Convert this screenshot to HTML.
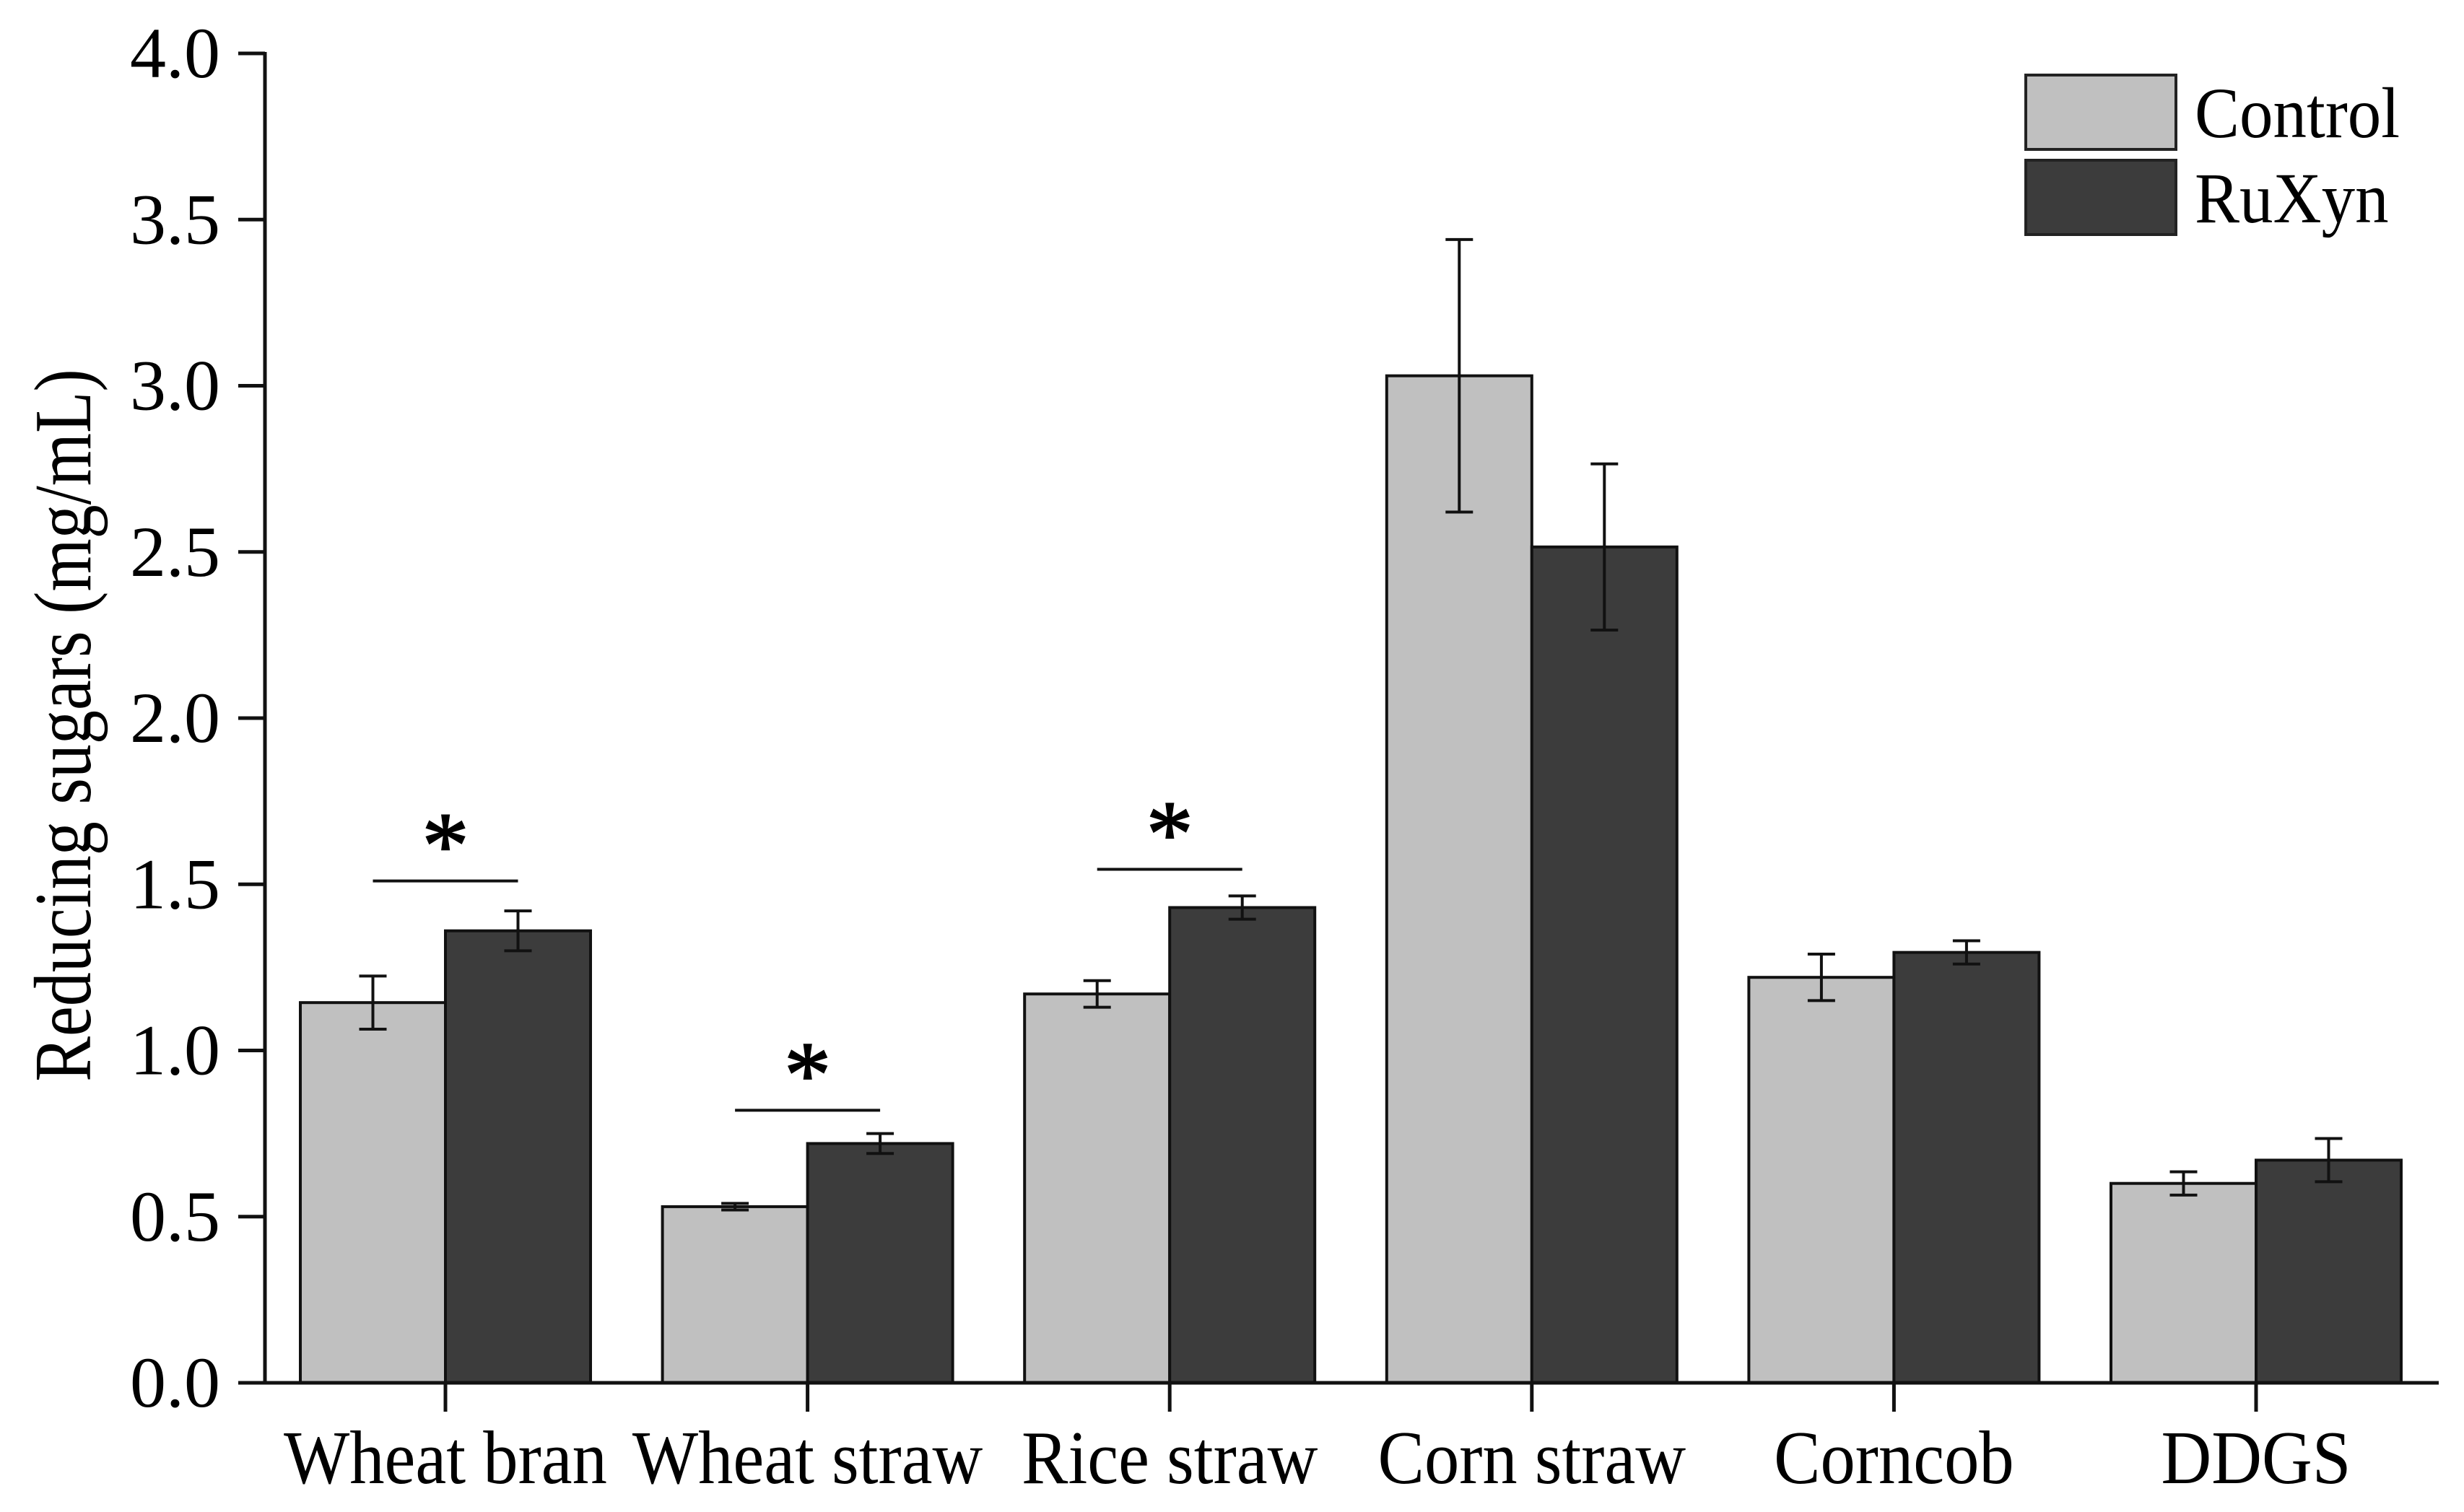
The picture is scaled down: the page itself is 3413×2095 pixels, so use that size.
<!DOCTYPE html>
<html><head><meta charset="utf-8"><style>
html,body{margin:0;padding:0;background:#fff;}
svg{display:block;font-family:"Liberation Serif",serif;}
</style></head><body>
<svg id="chart" width="3413" height="2095" viewBox="0 0 3413 2095" xmlns="http://www.w3.org/2000/svg">
<g id="plot"></g>
</svg>
<script>
const categories = ["Wheat bran","Wheat straw","Rice straw","Corn straw","Corncob","DDGS"];
const controlValues = [1.144,0.53,1.17,3.03,1.22,0.60];
const controlErrors = [0.08,0.01,0.04,0.41,0.07,0.035];
const ruxynValues = [1.36,0.72,1.43,2.515,1.295,0.67];
const ruxynErrors = [0.06,0.03,0.035,0.25,0.035,0.065];
const sigGroups = [0,1,2];
const sigLevels = [1.51,0.82,1.545];
const yTicks = [0,0.5,1.0,1.5,2.0,2.5,3.0,3.5,4.0];
const yTickLabels = ["0.0","0.5","1.0","1.5","2.0","2.5","3.0","3.5","4.0"];

const NS="http://www.w3.org/2000/svg";
const g=document.getElementById('plot');
const X0=367, Y0=1916, YPX=460.5, GC0=617, GSP=501.6, BW=201;
function y(v){return Y0-v*YPX;}
function gx(i){return GC0+i*GSP;}
function mk(tag,attrs){const e=document.createElementNS(NS,tag);for(const k in attrs)e.setAttribute(k,attrs[k]);g.appendChild(e);return e;}

categories.forEach((c,i)=>{
  const cx=gx(i);
  let b=mk('rect',{x:cx-BW,y:y(controlValues[i]),width:BW,height:Y0-y(controlValues[i]),fill:'#c0c0c0',stroke:'#111','stroke-width':4});
  
  
  b=mk('rect',{x:cx,y:y(ruxynValues[i]),width:BW,height:Y0-y(ruxynValues[i]),fill:'#3c3c3c',stroke:'#111','stroke-width':4});
  
  
  [[cx-BW/2,controlValues[i],controlErrors[i],'control'],[cx+BW/2,ruxynValues[i],ruxynErrors[i],'ruxyn']].forEach(([ex,v,e,n])=>{
    const p=mk('path',{d:`M${ex},${y(v+e)}V${y(v-e)}M${ex-19},${y(v+e)}h38M${ex-19},${y(v-e)}h38`,stroke:'#111','stroke-width':4,fill:'none'});
    
    
  });
});
sigGroups.forEach((gi,k)=>{
  const cx=gx(gi), yy=y(sigLevels[k]);
  const l=mk('line',{x1:cx-BW/2,x2:cx+BW/2,y1:yy,y2:yy,stroke:'#111','stroke-width':4});
  
  
  const t=mk('text',{x:cx,y:yy-6,'font-size':130,'text-anchor':'middle','stroke':'#000','stroke-width':2});
  t.textContent='*';
  
  
});
let a=mk('line',{x1:X0,x2:X0,y1:y(4)-2,y2:Y0+2,stroke:'#111','stroke-width':5});


a=mk('line',{x1:330,x2:3378,y1:Y0,y2:Y0,stroke:'#111','stroke-width':5});


yTicks.forEach((v,i)=>{
  const l=mk('line',{x1:330,x2:X0,y1:y(v),y2:y(v),stroke:'#111','stroke-width':5});
  
  
  const t=mk('text',{x:305,y:y(v)+33,'font-size':100,'text-anchor':'end'});
  t.textContent=yTickLabels[i];
  
  
});
categories.forEach((c,i)=>{
  const l=mk('line',{x1:gx(i),x2:gx(i),y1:Y0,y2:Y0+40,stroke:'#111','stroke-width':5});
  
  
  const t=mk('text',{x:0,y:0,'font-size':105,'text-anchor':'middle',transform:`translate(${gx(i)},2055) scale(0.92,1)`});
  t.textContent=c;
  
  
});
let yt=mk('text',{x:0,y:0,'font-size':112,'text-anchor':'middle',transform:'translate(125,1005) rotate(-90) scale(0.84,1)'});
yt.textContent='Reducing sugars (mg/mL)';


let r=mk('rect',{x:2806,y:104,width:208,height:103,fill:'#c0c0c0',stroke:'#222','stroke-width':4});


r=mk('rect',{x:2806,y:222,width:208,height:103,fill:'#3c3c3c',stroke:'#222','stroke-width':4});


let lt=mk('text',{x:0,y:0,'font-size':100,transform:'translate(3040,190) scale(0.93,1)'});
lt.textContent='Control';


lt=mk('text',{x:0,y:0,'font-size':100,transform:'translate(3040,308) scale(0.93,1)'});
lt.textContent='RuXyn';


</script>
</body></html>
